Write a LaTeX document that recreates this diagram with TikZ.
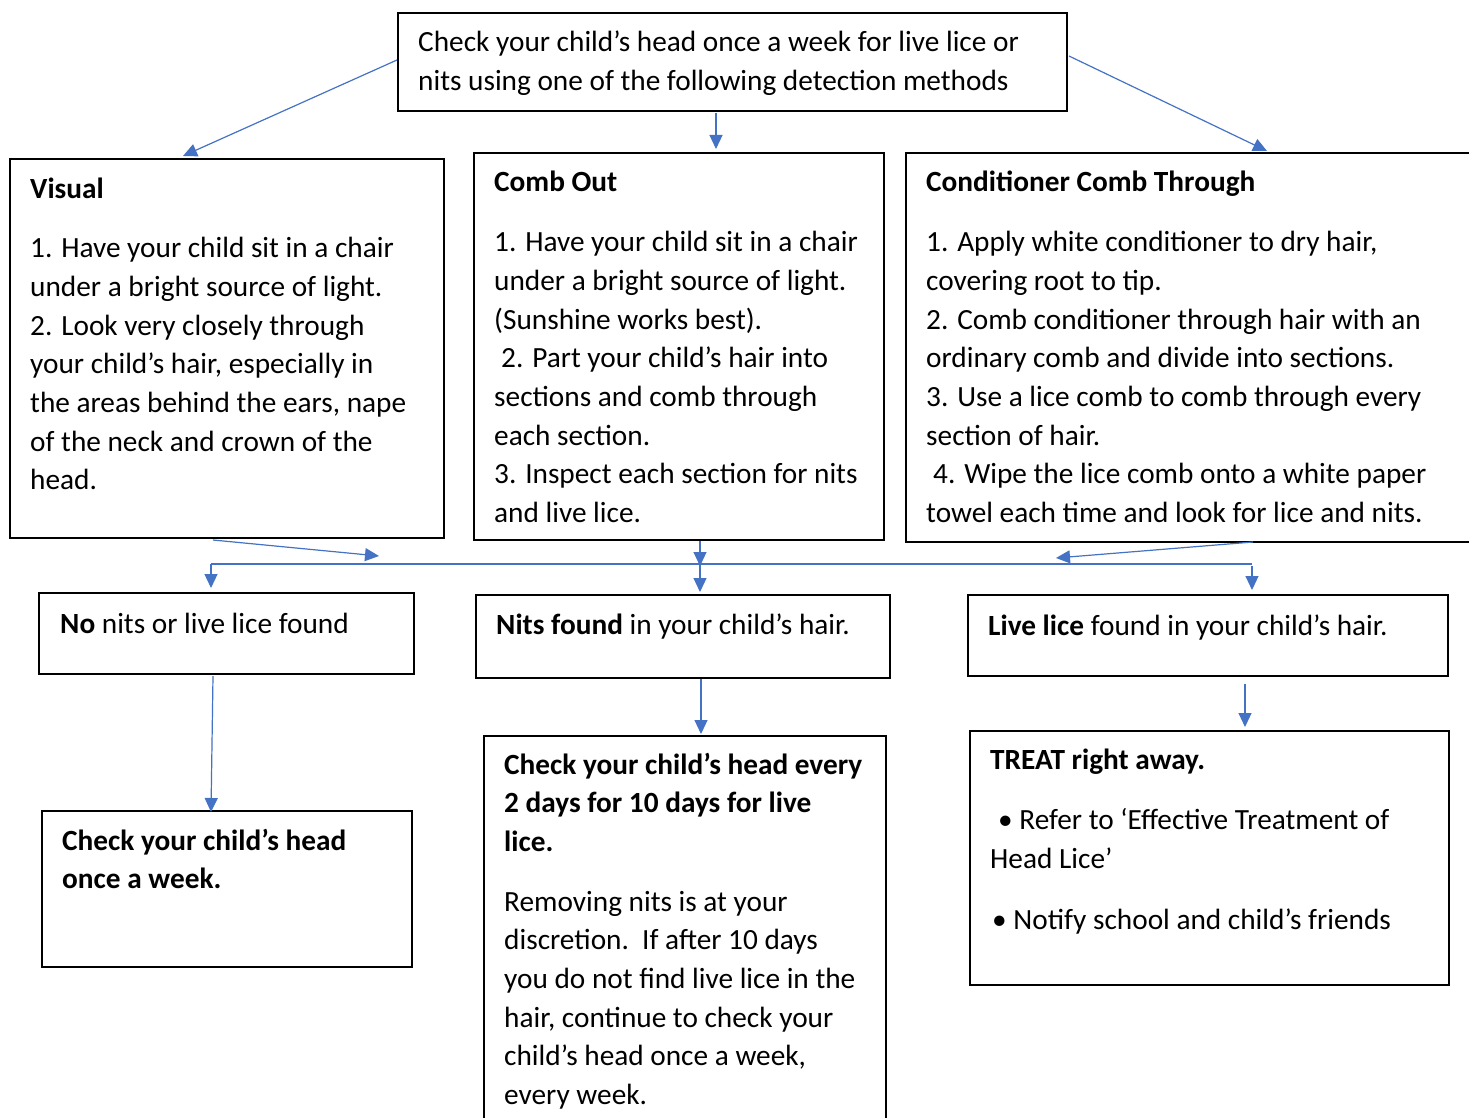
\documentclass[tikz,border=0pt]{standalone}
\usepackage{fontspec}
\setmainfont{Carlito}
\usetikzlibrary{arrows.meta}
\definecolor{lblue}{HTML}{4472C4}
\begin{document}
\begin{tikzpicture}[x=1pt,y=-1pt,
  box/.style={draw=black, line width=1.8pt, anchor=north west, inner sep=0pt, fill=none},
  txt/.style={anchor=base west, inner sep=0pt, align=left, font=\fontsize{29.3}{38.7}\selectfont},
  conn/.style={draw=lblue, line width=1.2pt, -{Triangle[length=14pt,width=13pt]}},
  plain/.style={draw=lblue, line width=1.2pt}]
\clip (0,0) rectangle (1469,1118);
\fill[white] (0,0) rectangle (1469,1118);

% boxes
\node[box, minimum width=669pt, minimum height=98pt] (top) at (397,12) {};
\node[box, minimum width=434pt, minimum height=379pt] (visual) at (9,158) {};
\node[box, minimum width=410pt, minimum height=387pt] (comb) at (473,152) {};
\node[box, minimum width=600pt, minimum height=389pt] (cond) at (905,152) {};
\node[box, minimum width=375pt, minimum height=81pt] (nonits) at (38,592) {};
\node[box, minimum width=414pt, minimum height=83pt] (nits) at (475,594) {};
\node[box, minimum width=480pt, minimum height=81pt] (live) at (967,594) {};
\node[box, minimum width=370pt, minimum height=156pt] (weekly) at (41,810) {};
\node[box, minimum width=402pt, minimum height=420pt] (every) at (483,735) {};
\node[box, minimum width=479pt, minimum height=254pt] (treat) at (969,730) {};

% texts (anchored at the baseline of their last line)
\node[txt] (toptxt) at (418,90.7) {Check your child’s head once a week for live lice or\\ nits using one of the following detection methods};
\node[txt] (visualtxt) at (30,489.9) {\textbf{Visual}\\[21pt] 1. Have your child sit in a chair\\ under a bright source of light.\\ 2. Look very closely through\\ your child’s hair, especially in\\ the areas behind the ears, nape\\ of the neck and crown of the\\ head.};
\node[txt] (combtxt) at (494,522.6) {\textbf{Comb Out}\\[22pt] 1. Have your child sit in a chair\\ under a bright source of light.\\ (Sunshine works best).\\ \hspace*{7pt}2. Part your child’s hair into\\ sections and comb through\\ each section.\\ 3. Inspect each section for nits\\ and live lice.};
\node[txt] (condtxt) at (926,522.6) {\textbf{Conditioner Comb Through}\\[22pt] 1. Apply white conditioner to dry hair,\\ covering root to tip.\\ 2. Comb conditioner through hair with an\\ ordinary comb and divide into sections.\\ 3. Use a lice comb to comb through every\\ section of hair.\\ \hspace*{7pt}4. Wipe the lice comb onto a white paper\\ towel each time and look for lice and nits.};
\node[txt] (nonitstxt) at (60,633) {\textbf{No} nits or live lice found};
\node[txt] (nitstxt) at (496,634) {\textbf{Nits found} in your child’s hair.};
\node[txt] (livetxt) at (988,635) {\textbf{Live lice} found in your child’s hair.};
\node[txt] (weeklytxt) at (62,888.7) {\textbf{Check your child’s head}\\ \textbf{once a week.}};
\node[txt] (everytxt) at (504,1104.6) {\textbf{Check your child’s head every}\\ \textbf{2 days for 10 days for live}\\ \textbf{lice.}\\[21pt] Removing nits is at your\\ discretion.\ \ If after 10 days\\ you do not find live lice in the\\ hair, continue to check your\\ child’s head once a week,\\ every week.};
\node[txt] (treattxt) at (990,929.1) {\textbf{TREAT right away.}\\[22pt] \hspace*{8pt}• Refer to ‘Effective Treatment of\\ Head Lice’\\[22pt] \hspace*{2pt}• Notify school and child’s friends};

% connector coordinates
\coordinate (t1) at (397,60);   \coordinate (t1e) at (183,156);
\coordinate (t2) at (716,113);  \coordinate (t2e) at (716,149);
\coordinate (t3) at (1069,56);  \coordinate (t3e) at (1267,151);
\coordinate (v1) at (213,540);  \coordinate (v1e) at (379,556);
\coordinate (hl) at (211,564);  \coordinate (hr) at (1252,564);
\coordinate (l1e) at (211,588);
\coordinate (m1) at (700,541);  \coordinate (m1e) at (700,566);
\coordinate (m2) at (700,564);  \coordinate (m2e) at (700,592);
\coordinate (r1) at (1253,542); \coordinate (r1e) at (1056,558);
\coordinate (r2) at (1252,566); \coordinate (r2e) at (1252,590);
\coordinate (n1) at (213,676);  \coordinate (n1e) at (211,812);
\coordinate (n2) at (701,679);  \coordinate (n2e) at (701,734);
\coordinate (n3) at (1245,684); \coordinate (n3e) at (1245,727);

% connectors
\draw[conn] (t1) -- (t1e);
\draw[conn] (t2) -- (t2e);
\draw[conn] (t3) -- (t3e);
\draw[conn] (v1) -- (v1e);
\draw[plain] (hl) -- (hr);
\draw[conn] (hl) -- (l1e);
\draw[conn] (m1) -- (m1e);
\draw[conn] (m2) -- (m2e);
\draw[conn] (r1) -- (r1e);
\draw[conn] (r2) -- (r2e);
\draw[conn] (n1) -- (n1e);
\draw[conn] (n2) -- (n2e);
\draw[conn] (n3) -- (n3e);
\end{tikzpicture}
\end{document}
